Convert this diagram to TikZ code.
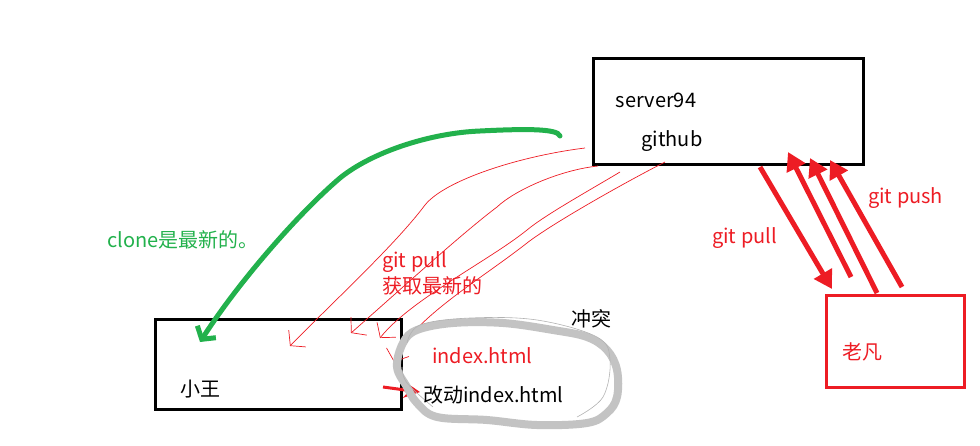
\documentclass[tikz,border=0pt]{standalone}
\usepackage{fontspec}
\setmainfont{Noto Sans CJK SC}
\usetikzlibrary{arrows.meta}
\definecolor{pen}{HTML}{ED1C24}
\definecolor{grass}{HTML}{22B14C}
\definecolor{blob}{HTML}{C3C3C3}
\tikzstyle{box}=[draw,line width=3pt,inner sep=0pt,anchor=north west]
\tikzstyle{label}=[font=\fontsize{20}{24}\selectfont,inner sep=0pt]
\tikzstyle{thin pull}=[draw,pen,line width=0.7pt,-{Straight Barb[length=10pt,width=24pt,line width=0.7pt]}]
\tikzstyle{fat}=[draw,pen,line width=5pt,-{Triangle[length=18pt,width=20pt]}]

\begin{document}
\begin{tikzpicture}[x=1pt,y=-1pt]
\useasboundingbox (0,0) rectangle (980,445);

				% First we draw the boxes
				\node[box,minimum width=270pt,minimum height=106pt] (server) at (592,57) {};
				\node[box,minimum width=246pt,minimum height=90pt] (wang) at (154,318) {};
				\node[box,pen,minimum width=138pt,minimum height=92pt] (fan) at (825,294) {};

				% Texts in the boxes
				\node[label] (srvname) at (656,100) {server94};
				\node[label] (gh) at (672,141) {github};
				\node[label] (wangname) at (200,389) {小王};
				\node[label,pen] (fanname) at (862,352) {老凡};

				% Free ends of the hand drawn arrows
				\foreach \pos/\name in {{(585,148)/s1}, {(598,166)/s2}, {(620,172)/s3}, {(665,162)/s4},
										{(290,346)/t1}, {(351,333)/t2}, {(380,338)/t3}, {(394,362)/t4},
										{(560,136)/g0}, {(200,342)/g1}, {(383,387)/r0}, {(420,392)/r1},
										{(760,167)/p0}, {(832,289)/p1},
										{(851,277)/u1}, {(788,152)/v1}, {(877,293)/u2}, {(810,158)/v2},
										{(902,287)/u3}, {(830,160)/v3}}
				\node[coordinate] (\name) at \pos {};

				% Thin red pulls from github down to xiaowang
				\path[thin pull] (s1) .. controls (520,156) and (445,180) .. (425,205) .. controls (395,245) and (335,300) .. (t1);
				\path[thin pull] (s2) .. controls (560,170) and (515,190) .. (497,207) .. controls (460,235) and (400,290) .. (t2);
				\path[thin pull] (s3) .. controls (590,190) and (545,215) .. (527,230) .. controls (490,260) and (410,300) .. (t3);
				\path[thin pull] (s4) .. controls (620,185) and (550,225) .. (527,243) .. controls (480,280) and (410,320) .. (t4);
				\node[label,pen,anchor=west] (pulltxt) at (382,262) {git pull};
				\node[label,pen,anchor=west] (newtxt) at (382,286) {获取最新的};

				% The green clone arrow
				\draw[grass,line width=5pt,line cap=round,-{Straight Barb[length=9pt,width=22pt,line width=5pt]}]
					(g0) .. controls (558,128) and (520,129) .. (480,131) .. controls (430,133) and (372,152) .. (340,178)
					.. controls (300,212) and (240,280) .. (g1);
				\node[label,grass,anchor=west] (clonetxt) at (107,240) {clone是最新的。};

				% Small red arrow into the conflict
				\path[draw,pen,line width=3pt,-{Stealth[length=16pt,width=16pt]}] (r0) -- (r1);

				% The grey blob round the conflict
				\draw[blob,line width=8pt,line join=round] plot[smooth cycle,tension=0.6] coordinates
					{(403,343) (417,330) (453,323) (503,323) (553,330) (587,337) (607,350) (617,370)
					 (617,397) (607,413) (587,423) (537,425) (487,420) (437,417) (417,403) (407,387) (397,367)};
				\draw[gray!60,line width=0.6pt] plot[smooth,tension=0.6] coordinates
					{(407,343) (420,325) (470,318) (537,320) (597,337) (610,360) (603,397) (577,417)};
				\draw[gray!60,line width=0.6pt] plot[smooth,tension=0.6] coordinates
					{(402,367) (407,383) (433,407)};
				\node[label,pen,anchor=west] (idx) at (432,356) {index.html};
				\node[label,anchor=west] (chg) at (423,395) {改动index.html};
				\node[label,anchor=west] (conflict) at (571,319) {冲突};

				% Thick red arrows between github and laofan
				\path[fat] (p0) -- (p1);
				\node[label,pen,anchor=west] (pull2) at (712,238) {git pull};
				\foreach \source/ \dest in {u1/v1, u2/v2, u3/v3}
				\path[fat] (\source) -- (\dest);
				\node[label,pen,anchor=west] (pushtxt) at (868,198) {git push};

\end{tikzpicture}
\end{document}
